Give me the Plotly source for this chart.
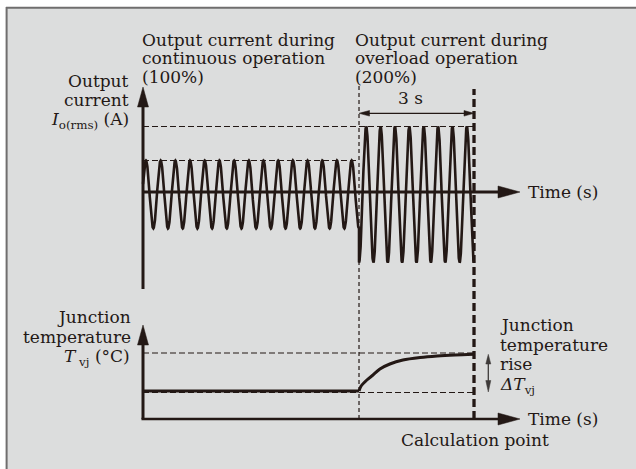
import numpy as np
import plotly.graph_objects as go

# ---------------- data ----------------
phase_names = ["continuous", "overload"]
phase_current_pct = [100, 200]          # peak output current (% of rated)
phase_cycles = [14.7, 8]                # AC cycles drawn in each phase
continuous_duration_s = 5.635
overload_duration_s = 3
time_axis_end_s = 9.84

temp_time_s = [5.635, 5.69, 5.84, 6.00, 6.18, 6.44, 6.78, 7.23, 7.67, 8.14, 8.635]
temp_level = [28, 33, 39, 44, 50, 55, 59, 61.5, 63, 64, 64.7]
temp_base_level = 28
temp_final_level = 66
temp_ref_low_level = 26.5

# ---------------- layout constants (pixel geometry) ----------------
W, H = 636, 469
PX_T0, PX_PER_S = 143.0, 38.333
PY_I0, PX_PER_PCT = 194.5, 0.34
PY_T0, PX_PER_DEG = 419.0, 1.0
INK = "#231815"
GREY_INK = "#3e3a39"
BG = "#dcdddd"
FONT = "DejaVu Serif"


def tx(px):
    return (px - PX_T0) / PX_PER_S


def iy(py):
    return (PY_I0 - py) / PX_PER_PCT


def ty(py):
    return (PY_T0 - py) / PX_PER_DEG


t1 = continuous_duration_s
t_end = t1 + overload_duration_s

fig = go.Figure()

# ---- current waveforms ----
t_c = np.linspace(0, t1, 1600)
f_c = phase_cycles[0] / t1
i_c = -phase_current_pct[0] * np.cos(2 * np.pi * f_c * (t1 - t_c))
t_o = np.linspace(t1, t_end, 1200)
f_o = phase_cycles[1] / overload_duration_s
i_o = -phase_current_pct[1] * np.cos(2 * np.pi * f_o * (t_o - t1))
fig.add_trace(go.Scatter(x=np.concatenate([t_c, t_o]), y=np.concatenate([i_c, i_o]),
                         mode="lines", line=dict(color=INK, width=2.6),
                         hoverinfo="skip", showlegend=False, yaxis="y"))

# ---- junction temperature ----
fig.add_trace(go.Scatter(x=[0, t1], y=[temp_base_level, temp_base_level], mode="lines",
                         line=dict(color=INK, width=3), hoverinfo="skip",
                         showlegend=False, yaxis="y2"))
fig.add_trace(go.Scatter(x=temp_time_s, y=temp_level, mode="lines",
                         line=dict(color=INK, width=3, shape="spline", smoothing=0.8),
                         hoverinfo="skip", showlegend=False, yaxis="y2"))

shapes = []
# background panel + border
shapes.append(dict(type="rect", xref="paper", yref="paper", x0=6 / W, x1=1, y0=0, y1=1 - 7.5 / H,
                   fillcolor=BG, line=dict(width=0), layer="below"))
shapes.append(dict(type="line", xref="paper", yref="paper", x0=6 / W, x1=1,
                   y0=1 - 7.8 / H, y1=1 - 7.8 / H, line=dict(color="#6f6e6e", width=2), layer="below"))
shapes.append(dict(type="line", xref="paper", yref="paper", x0=6.6 / W, x1=6.6 / W,
                   y0=0, y1=1 - 7 / H, line=dict(color="#6f6e6e", width=2), layer="below"))


def hline(y, x0, x1, yref, width, dash, color=INK):
    shapes.append(dict(type="line", xref="x", yref=yref, x0=x0, x1=x1, y0=y, y1=y,
                       line=dict(color=color, width=width, dash=dash), layer="below"))


def vline(x, y0, y1, yref, width, dash, color=INK):
    shapes.append(dict(type="line", xref="x", yref=yref, x0=x, x1=x, y0=y0, y1=y1,
                       line=dict(color=color, width=width, dash=dash), layer="below"))


def tri(points, yref, color=INK):
    p = "M " + " L ".join(f"{x},{y}" for x, y in points) + " Z"
    shapes.append(dict(type="path", xref="x", yref=yref, path=p, fillcolor=color,
                       line=dict(color=color, width=0.5)))


# reference dashed lines
hline(phase_current_pct[1], 0, t_end, "y", 1.2, "6px,3px")
hline(phase_current_pct[0], 0, t1, "y", 1.2, "6px,3px")
hline(temp_final_level, 0, t_end, "y2", 1.2, "6px,3px")
hline(temp_ref_low_level, 0, t_end, "y2", 1.2, "6px,3px")
vline(t1, ty(419), ty(86), "y2", 1.2, "4px,3px")
vline(t_end, ty(419), ty(89), "y2", 3.3, "8px,4px")

# axes (current)
axis_level_i = iy(192)
shapes.append(dict(type="line", xref="x", yref="y", x0=0, x1=0, y0=iy(289), y1=iy(104),
                   line=dict(color=INK, width=3)))
tri([(0, iy(87)), (tx(137.5), iy(107)), (tx(148.5), iy(107))], "y")
shapes.append(dict(type="line", xref="x", yref="y", x0=0, x1=tx(500), y0=axis_level_i, y1=axis_level_i,
                   line=dict(color=INK, width=3)))
tri([(tx(520), iy(192)), (tx(498), iy(186)), (tx(498), iy(198))], "y")

# axes (temperature)
shapes.append(dict(type="line", xref="x", yref="y2", x0=0, x1=0, y0=0, y1=ty(343),
                   line=dict(color=INK, width=3)))
tri([(0, ty(325)), (tx(137.5), ty(345)), (tx(148.5), ty(345))], "y2")
shapes.append(dict(type="line", xref="x", yref="y2", x0=-0.04, x1=tx(500), y0=0, y1=0,
                   line=dict(color=INK, width=2.6)))
tri([(tx(520), 0), (tx(498), ty(413)), (tx(498), ty(425))], "y2")

# 3 s dimension arrow
y3 = iy(113.3)
shapes.append(dict(type="line", xref="x", yref="y", x0=tx(362), x1=tx(471), y0=y3, y1=y3,
                   line=dict(color=INK, width=1.3)))
tri([(t1, y3), (tx(369.5), iy(110.5)), (tx(369.5), iy(116.1))], "y")
tri([(t_end, y3), (tx(464), iy(110.5)), (tx(464), iy(116.1))], "y")

# delta T arrow
xd = tx(488.3)
shapes.append(dict(type="line", xref="x", yref="y2", x0=xd, x1=xd, y0=ty(358), y1=ty(387),
                   line=dict(color=GREY_INK, width=1.3)))
tri([(xd, temp_level[-1]), (tx(485.8), ty(364)), (tx(490.8), ty(364))], "y2", GREY_INK)
tri([(xd, temp_base_level - 1), (tx(485.8), ty(380.5)), (tx(490.8), ty(380.5))], "y2", GREY_INK)

annotations = []


def label(text, px, py, xanchor="left"):
    annotations.append(dict(text=text, x=px / W, y=1 - py / H, xref="paper", yref="paper",
                            xanchor=xanchor, yanchor="middle", showarrow=False,
                            borderpad=0, borderwidth=0,
                            font=dict(family=FONT, size=17, color=INK)))


label("Output current during", 141.5, 40)
label("continuous operation", 141.5, 58.5)
label("(100%)", 141.5, 77)
label("Output current during", 355, 40)
label("overload operation", 355, 58.5)
label("(200%)", 355, 77)
label("Output", 128.5, 81, "right")
label("current", 128.5, 100, "right")
label("<i>I</i><sub>o(rms)</sub> (A)", 128.5, 121, "right")
label("3 s", 410.7, 98, "center")
label("Time (s)", 528, 192)
label("Junction", 130.5, 317, "right")
label("temperature", 130.5, 336.5, "right")
label("<i>T</i><sub> vj</sub> (°C)", 130, 357.5, "right")
label("Junction", 500, 325)
label("temperature", 500, 345)
label("rise", 500, 363.5)
label("<i>ΔT</i><sub>vj</sub>", 500, 385)
label("Time (s)", 528, 419)
label("Calculation point", 475, 440, "center")

axis_off = dict(visible=False, showgrid=False, zeroline=False, fixedrange=True)
fig.update_layout(
    width=W, height=H, autosize=False,
    margin=dict(l=0, r=0, t=0, b=0, pad=0),
    paper_bgcolor="white", plot_bgcolor="rgba(0,0,0,0)",
    xaxis=dict(range=[tx(0), tx(W)], domain=[0, 1], **axis_off),
    yaxis=dict(range=[iy(H), iy(0)], domain=[0, 1], **axis_off),
    yaxis2=dict(range=[ty(H), ty(0)], domain=[0, 1], overlaying="y", **axis_off),
    shapes=shapes, annotations=annotations, showlegend=False,
)

fig.write_html("out.html", config={"displayModeBar": False},
               post_script="document.body.style.margin='0';document.body.style.overflow='hidden';")
